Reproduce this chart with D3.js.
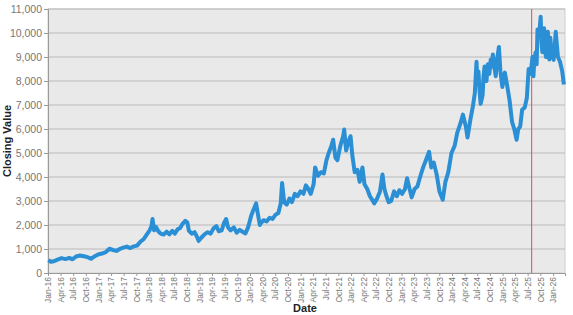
<!DOCTYPE html>
<html>
<head>
<meta charset="utf-8">
<script src="https://cdn.jsdelivr.net/npm/d3@7"></script>
<style>
  body { margin: 0; background: #fff; }
  svg { display: block; font-family: "Liberation Sans", Arial, sans-serif; }
</style>
</head>
<body>
<div id="chart"></div>
<script>
// closing values (date, value)
const dates = [
  '2016-01-04','2016-01-22','2016-02-12','2016-03-10','2016-04-08','2016-05-06','2016-06-03','2016-06-27',
  '2016-07-22','2016-08-19','2016-09-16','2016-10-14','2016-11-07','2016-12-05','2016-12-28',
  '2017-01-25','2017-02-22','2017-03-20','2017-04-14','2017-05-10','2017-06-05','2017-06-28','2017-07-24',
  '2017-08-18','2017-09-12','2017-10-06','2017-10-30','2017-11-24','2017-12-15',
  '2018-01-05','2018-01-18','2018-01-26','2018-02-06','2018-02-20','2018-03-09','2018-03-26','2018-04-16',
  '2018-05-08','2018-05-28','2018-06-18','2018-07-06','2018-07-26','2018-08-14','2018-08-31','2018-09-20',
  '2018-10-05','2018-10-16','2018-11-06','2018-11-26','2018-12-14','2018-12-26',
  '2019-01-15','2019-02-08','2019-03-01','2019-03-22','2019-04-12','2019-05-03','2019-05-20','2019-06-10',
  '2019-06-28','2019-07-12','2019-07-26','2019-08-14','2019-09-06','2019-09-27','2019-10-18','2019-11-08',
  '2019-11-29','2019-12-18',
  '2020-01-10','2020-01-24','2020-02-14','2020-02-24','2020-03-12','2020-03-20','2020-04-08','2020-04-30',
  '2020-05-22','2020-06-12','2020-07-02','2020-07-24','2020-08-10','2020-08-20','2020-09-04','2020-09-22',
  '2020-10-12','2020-10-30','2020-11-20','2020-12-10','2020-12-31',
  '2021-01-22','2021-02-08','2021-02-26','2021-03-15','2021-04-05','2021-04-16','2021-05-07','2021-05-28',
  '2021-06-18','2021-07-07','2021-07-23','2021-08-12','2021-08-24','2021-09-10','2021-09-24','2021-10-15',
  '2021-11-05','2021-11-12','2021-11-26','2021-12-14','2021-12-28',
  '2022-01-10','2022-01-27','2022-02-16','2022-03-04','2022-03-24','2022-04-08','2022-04-28','2022-05-17',
  '2022-06-03','2022-06-17','2022-07-08','2022-07-29','2022-08-16','2022-08-30','2022-09-14','2022-09-30',
  '2022-10-18','2022-11-08','2022-11-28','2022-12-16',
  '2023-01-05','2023-01-26','2023-02-10','2023-02-24','2023-03-15','2023-04-05','2023-04-25','2023-05-15',
  '2023-06-06','2023-06-26','2023-07-19','2023-08-04','2023-08-22','2023-09-12','2023-10-02','2023-10-26',
  '2023-11-14','2023-12-05','2023-12-28',
  '2024-01-20','2024-02-08','2024-02-29','2024-03-20','2024-04-10','2024-04-22','2024-05-13','2024-05-31',
  '2024-06-14','2024-06-26','2024-07-03','2024-07-10','2024-07-18','2024-07-26','2024-08-09','2024-08-16',
  '2024-08-23','2024-09-06','2024-09-16','2024-09-27','2024-10-07','2024-10-14','2024-10-22','2024-10-30',
  '2024-11-12','2024-11-22','2024-12-05','2024-12-16','2024-12-30',
  '2025-01-17','2025-02-03','2025-02-20','2025-03-10','2025-03-26','2025-04-12','2025-04-24','2025-05-08',
  '2025-05-22','2025-06-10','2025-06-25','2025-07-08','2025-07-22','2025-08-05','2025-08-12','2025-08-18',
  '2025-08-28','2025-09-04','2025-09-10','2025-09-22','2025-10-03','2025-10-09','2025-10-15','2025-10-28',
  '2025-11-03','2025-11-10','2025-11-24','2025-12-05','2025-12-12','2025-12-18',
  '2026-01-05','2026-01-20','2026-02-05','2026-02-20','2026-03-08','2026-03-20'
];
const closes = [
  540, 470, 490, 560, 620, 580, 630, 570,
  690, 730, 700, 660, 590, 700, 770,
  810, 870, 1010, 960, 920, 1010, 1060, 1100,
  1040, 1110, 1140, 1300, 1420, 1600,
  1780, 1950, 2250, 1780, 1920, 1740, 1640, 1600,
  1720, 1610, 1760, 1640, 1820, 1880, 2050, 2170,
  2100, 1760, 1640, 1700, 1500, 1340,
  1480, 1620, 1700, 1640, 1860, 1950, 1740, 1780,
  2100, 2250, 1900, 1780, 1900, 1680, 1800, 1720,
  1650, 1900,
  2400, 2600, 2900, 2550, 2000, 2080, 2200, 2150,
  2300, 2250, 2420, 2500, 2900, 3750, 2950, 2850,
  3100, 2950, 3300, 3200, 3400,
  3300, 3650, 3500, 3300, 3700, 4400, 4050, 4200,
  4150, 4700, 5000, 5300, 5550, 4800, 4700, 5300,
  5700, 5980, 5100, 5500, 5700,
  4900, 4200, 4300, 3800, 4400, 3700, 3500, 3200,
  3050, 2900, 3100, 3400, 4100, 3500, 3200, 2950,
  3000, 3400, 3200, 3450,
  3300, 3500, 3950, 3600, 3150, 3500, 3600, 4000,
  4400, 4700, 5050, 4400, 4600, 4100, 3400, 3050,
  3800, 4200, 5000,
  5300, 5850, 6200, 6600, 6100, 5650, 6400, 6950,
  7500, 8800, 7900, 8400, 7600, 7050, 7400, 8200,
  8600, 8000, 8700, 8300, 8900, 8600, 9100, 8700,
  8200, 8900, 9420, 8400, 7750,
  8350, 7800, 7200, 6300, 6000, 5550, 6000, 6100,
  6800, 6900, 7300, 8500, 8300, 9000, 8200, 8900,
  9200, 8700, 10150, 9900, 10680, 9600, 9200, 10200,
  9400, 9000, 10050, 8900, 9800, 9300,
  8880, 10050, 9000, 8800, 8400, 7850
];
const yTicks = [0, 1000, 2000, 3000, 4000, 5000, 6000, 7000, 8000, 9000, 10000, 11000];
const markerDate = '2025-07-30';
const xStart = '2016-01-01';
const xEnd = '2026-03-28';

const parse = d3.utcParse('%Y-%m-%d');
const series = dates.map((d, i) => ({ date: parse(d), value: closes[i] }));

const width = 573;
const height = 315;
const margin = { t: 9, r: 8, l: 48, b: 42 };

const svg = d3.select('#chart').append('svg')
  .attr('width', width)
  .attr('height', height)
  .attr('viewBox', [0, 0, width, height]);

const x = d3.scaleUtc()
  .domain([parse(xStart), parse(xEnd)])
  .range([margin.l, width - margin.r]);

const y = d3.scaleLinear()
  .domain([0, 11000])
  .range([height - margin.b, margin.t]);

// plot background
svg.append('rect')
  .attr('x', margin.l)
  .attr('y', margin.t)
  .attr('width', width - margin.l - margin.r)
  .attr('height', height - margin.t - margin.b)
  .attr('fill', '#e9e9e9')
  .attr('stroke', '#cfcfcf');

// horizontal grid
svg.append('g')
  .selectAll('line')
  .data(yTicks.slice(1))
  .join('line')
  .attr('x1', margin.l)
  .attr('x2', width - margin.r)
  .attr('y1', d => y(d))
  .attr('y2', d => y(d))
  .attr('stroke', '#b9b9b9')
  .attr('stroke-width', 1);

// y axis
svg.append('g')
  .attr('transform', `translate(${margin.l},0)`)
  .call(d3.axisLeft(y).tickValues(yTicks).tickFormat(d3.format(',')).tickSize(4).tickPadding(2))
  .call(g => g.select('.domain').attr('stroke', '#999'))
  .call(g => g.selectAll('.tick line').attr('stroke', '#999'))
  .call(g => g.selectAll('.tick text').attr('fill', '#777').attr('font-size', 10.5));

// x axis, quarterly ticks
const xTicks = d3.utcMonth.every(3).range(parse('2016-01-01'), parse('2026-02-01'));
svg.append('g')
  .attr('transform', `translate(0,${height - margin.b})`)
  .call(d3.axisBottom(x).tickValues(xTicks).tickFormat(d3.utcFormat('%b-%y')).tickSize(3).tickPadding(2))
  .call(g => g.select('.domain').attr('stroke', '#999'))
  .call(g => g.selectAll('.tick line').attr('stroke', '#999'))
  .call(g => g.selectAll('.tick text')
    .attr('fill', '#777')
    .attr('font-size', 8.5)
    .attr('text-anchor', 'end')
    .attr('dy', '0.32em')
    .attr('transform', 'translate(0,1) rotate(-90)')
    .attr('x', -3)
    .attr('y', 0));

// marker line
svg.append('line')
  .attr('x1', x(parse(markerDate)))
  .attr('x2', x(parse(markerDate)))
  .attr('y1', margin.t)
  .attr('y2', height - margin.b)
  .attr('stroke', '#d9505e')
  .attr('stroke-width', 1);

// closing value line
const line = d3.line()
  .x(d => x(d.date))
  .y(d => y(d.value));

svg.append('path')
  .datum(series)
  .attr('fill', 'none')
  .attr('stroke', '#2a8fd4')
  .attr('stroke-width', 4)
  .attr('stroke-linejoin', 'round')
  .attr('d', line);

// axis titles
svg.append('text')
  .attr('transform', `translate(11,${(margin.t + height - margin.b) / 2}) rotate(-90)`)
  .attr('text-anchor', 'middle')
  .attr('font-size', 11)
  .attr('font-weight', 'bold')
  .attr('fill', '#222')
  .text('Closing Value');

svg.append('text')
  .attr('x', 305)
  .attr('y', 312)
  .attr('text-anchor', 'middle')
  .attr('font-size', 11)
  .attr('font-weight', 'bold')
  .attr('fill', '#222')
  .text('Date');
</script>
</body>
</html>
